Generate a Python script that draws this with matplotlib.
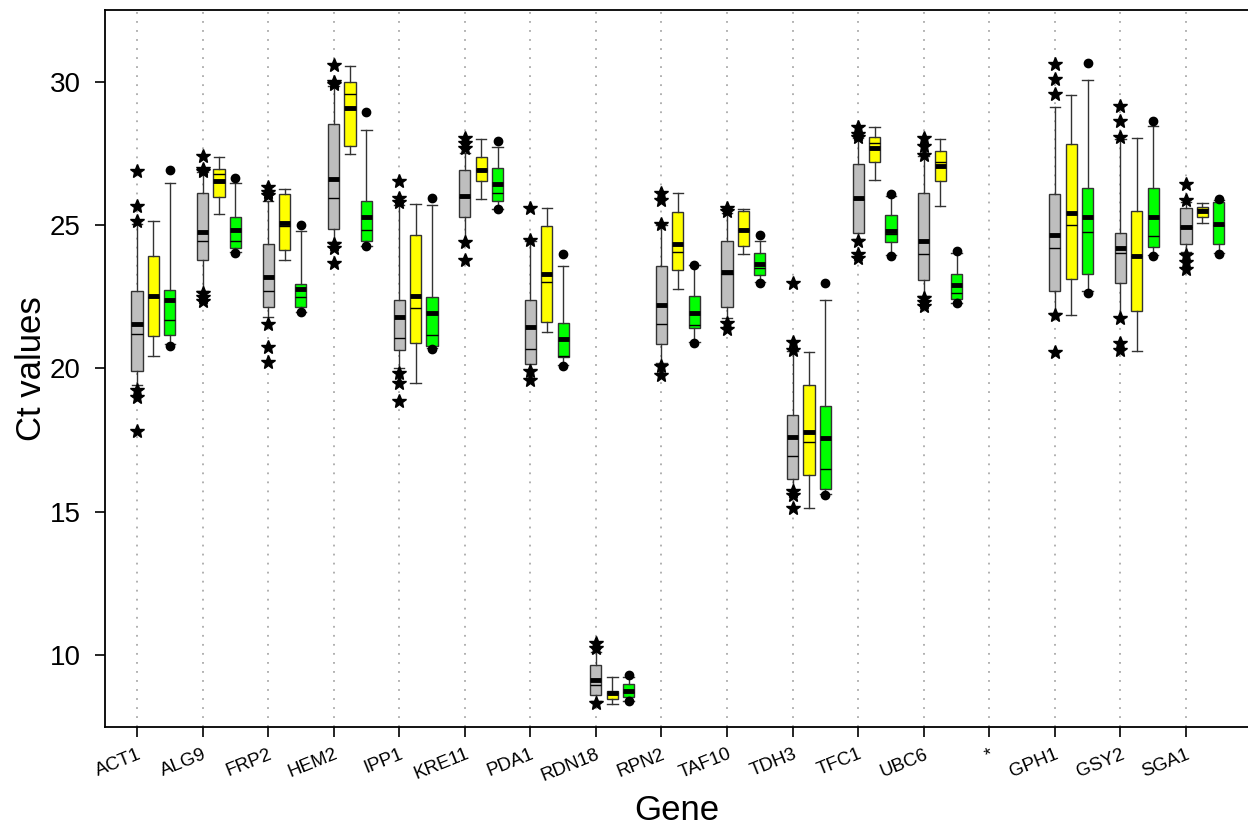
import matplotlib
matplotlib.use("Agg")
import matplotlib.pyplot as plt

plt.rcParams['font.family'] = ['Liberation Sans', 'DejaVu Sans']

genes = ['ACT1', 'ALG9', 'FRP2', 'HEM2', 'IPP1', 'KRE11', 'PDA1', 'RDN18', 'RPN2',
         'TAF10', 'TDH3', 'TFC1', 'UBC6', '*', 'GPH1', 'GSY2', 'SGA1']

# gray group (None = no data for that gene)
gray_lo = [19.43, 22.69, 21.81, 24.40, 20.01, 24.45, 19.95, 8.40, 20.19, 21.76, 15.75, 24.51, 22.53, None, 21.93, 21.80, 24.08]
gray_q1 = [19.90, 23.77, 22.16, 24.87, 20.65, 25.27, 20.15, 8.62, 20.85, 22.14, 16.16, 24.74, 23.09, None, 22.72, 22.98, 24.35]
gray_med = [21.21, 24.45, 22.71, 25.94, 21.05, 26.00, 20.69, 8.97, 21.57, 23.30, 16.96, 25.90, 23.98, None, 24.20, 24.02, 24.94]
gray_q3 = [22.69, 26.12, 24.35, 28.54, 22.40, 26.93, 22.40, 9.67, 23.56, 24.45, 18.38, 27.14, 26.14, None, 26.09, 24.72, 25.59]
gray_hi = [25.05, 26.85, 25.86, 29.85, 25.70, 27.51, 24.45, 10.10, 25.00, 25.42, 20.60, 28.05, 27.42, None, 29.14, 28.00, 25.80]
gray_mean = [21.56, 24.78, 23.19, 26.61, 21.78, 26.03, 21.44, 9.14, 22.22, 23.37, 17.60, 25.94, 24.46, None, 24.67, 24.22, 24.94]
gray_out = [[26.90, 25.67, 25.16, 19.26, 19.00, 17.82],
            [27.40, 26.95, 26.90, 22.63, 22.51, 22.34],
            [26.35, 26.17, 26.06, 21.56, 20.75, 20.21],
            [30.59, 30.00, 29.93, 24.35, 24.20, 23.68],
            [26.55, 25.96, 25.80, 19.84, 19.49, 18.87],
            [28.04, 27.86, 27.69, 24.40, 23.79],
            [25.59, 24.49, 19.90, 19.61],
            [10.42, 10.25, 8.33],
            [26.14, 25.88, 25.04, 20.07, 19.78],
            [25.60, 25.50, 21.58, 21.37],
            [23.00, 20.91, 20.63, 15.73, 15.60, 15.12],
            [28.44, 28.19, 28.07, 24.46, 24.00, 23.87],
            [28.05, 27.76, 27.45, 22.47, 22.32, 22.18],
            [],
            [30.63, 30.09, 29.57, 21.88, 20.57],
            [29.16, 28.62, 28.07, 21.76, 20.89, 20.65],
            [26.44, 25.88, 23.97, 23.73, 23.47]]

# yellow group
yellow_lo = [20.44, 25.40, 23.77, 27.48, 19.49, 25.91, 21.29, 8.30, 22.77, 24.00, 15.12, 26.58, 25.68, None, 21.85, 20.62, 25.07]
yellow_q1 = [21.14, 25.97, 24.15, 27.78, 20.89, 26.55, 21.64, 8.45, 23.44, 24.28, 16.28, 27.20, 26.55, None, 23.12, 21.99, 25.30]
yellow_med = [22.50, 26.79, 24.98, 29.59, 22.11, 26.93, 23.03, 8.67, 24.06, 24.84, 17.44, 27.86, 27.20, None, 25.01, 23.91, 25.55]
yellow_q3 = [23.91, 26.95, 26.08, 29.99, 24.66, 27.37, 24.99, 8.76, 25.45, 25.50, 19.44, 28.07, 27.59, None, 27.84, 25.51, 25.62]
yellow_hi = [25.16, 27.39, 26.28, 30.57, 25.73, 28.01, 25.59, 9.24, 26.14, 25.57, 20.59, 28.42, 28.02, None, 29.56, 28.06, 25.77]
yellow_mean = [22.54, 26.56, 25.08, 29.08, 22.53, 26.93, 23.30, 8.67, 24.36, 24.84, 17.79, 27.69, 27.08, None, 25.44, 23.91, 25.51]

# green group
green_lo = [20.85, 24.05, 21.98, 24.28, 20.70, 25.57, 20.12, 8.40, 20.92, 23.02, 15.62, 23.97, 22.30, None, 22.72, 23.97, 24.02]
green_q1 = [21.16, 24.19, 22.16, 24.45, 20.79, 25.84, 20.40, 8.52, 21.40, 23.28, 15.79, 24.43, 22.43, None, 23.30, 24.23, 24.34]
green_med = [21.68, 24.45, 22.48, 24.83, 21.17, 26.14, 20.45, 8.72, 21.53, 23.50, 16.48, 24.70, 22.65, None, 24.76, 24.64, 25.00]
green_q3 = [22.74, 25.28, 22.94, 25.84, 22.49, 26.98, 21.58, 9.00, 22.54, 24.02, 18.69, 25.35, 23.30, None, 26.29, 26.29, 25.82]
green_hi = [26.49, 26.47, 24.80, 28.33, 25.71, 27.74, 23.59, 9.25, 23.61, 24.46, 22.40, 26.02, 24.03, None, 30.07, 28.47, 25.88]
green_mean = [22.40, 24.84, 22.79, 25.30, 21.93, 26.43, 21.03, 8.75, 21.92, 23.65, 17.58, 24.81, 22.93, None, 25.27, 25.30, 25.04]
green_out = [[26.93, 20.79], [26.66, 24.02], [25.00, 21.96], [28.94, 24.26], [25.96, 20.68],
             [27.95, 25.55], [24.00, 20.10], [9.29, 8.38], [23.61, 20.89], [24.66, 23.00],
             [23.00, 15.59], [26.08, 23.94], [24.11, 22.27], [], [30.65, 22.63],
             [28.65, 23.94], [25.93, 23.99]]


def make_stats(lo, q1, med, q3, hi, mean, out=None):
    stats, pos = [], []
    for i in range(len(genes)):
        if med[i] is None:
            continue
        stats.append(dict(whislo=lo[i], q1=q1[i], med=med[i], q3=q3[i], whishi=hi[i],
                          mean=mean[i], fliers=out[i] if out else []))
        pos.append(i)
    return stats, pos


fig = plt.figure(figsize=(12.48, 8.30), dpi=100)
ax = fig.add_axes([105 / 1248, 103 / 830, 1143 / 1248, 717 / 830])

groups = [
    (make_stats(gray_lo, gray_q1, gray_med, gray_q3, gray_hi, gray_mean, gray_out), 0.0, '#bebebe',
     dict(marker='*', markersize=10, markerfacecolor='black', markeredgecolor='black', linestyle='none')),
    (make_stats(yellow_lo, yellow_q1, yellow_med, yellow_q3, yellow_hi, yellow_mean), 0.25, '#ffff00',
     dict(marker='o', markersize=6, markerfacecolor='black', markeredgecolor='black', linestyle='none')),
    (make_stats(green_lo, green_q1, green_med, green_q3, green_hi, green_mean, green_out), 0.5, '#00ff00',
     dict(marker='o', markersize=6, markerfacecolor='black', markeredgecolor='black', linestyle='none')),
]

for (stats, pos), off, col, fprops in groups:
    ax.bxp(stats, positions=[p + off for p in pos], widths=0.17, capwidths=0.16,
           patch_artist=True, showmeans=True, meanline=True, manage_ticks=False,
           boxprops=dict(facecolor=col, edgecolor='#333333', linewidth=1),
           whiskerprops=dict(color='#333333', linewidth=1),
           capprops=dict(color='#333333', linewidth=1),
           medianprops=dict(color='black', linewidth=1),
           meanprops=dict(color='black', linewidth=3.5, linestyle='-'),
           flierprops=fprops)

ax.set_xlim(-0.488, 16.946)
ax.set_ylim(7.49, 32.51)
ax.set_xticks(range(len(genes)))
ax.set_xticklabels(genes, rotation=22, ha='right', va='top', rotation_mode='anchor', fontsize=13.5)
ax.set_yticks([10, 15, 20, 25, 30])
ax.tick_params(axis='y', labelsize=20, length=7.5, width=1.2, pad=10)
ax.tick_params(axis='x', length=7.5, width=1.2, pad=6)
ax.xaxis.grid(True, linestyle=(0, (1, 4)), color='#aaaaaa', linewidth=1.3)
ax.set_axisbelow(True)

for s in ['left', 'bottom', 'top']:
    ax.spines[s].set_linewidth(1.3)
ax.spines['right'].set_visible(False)

ax.set_ylabel('Ct values', fontsize=25)
ax.yaxis.set_label_coords(-0.05, 0.5)
ax.set_xlabel('Gene', fontsize=25)
ax.xaxis.set_label_coords(0.5, -0.094)

fig.savefig('out.png', dpi=100)
